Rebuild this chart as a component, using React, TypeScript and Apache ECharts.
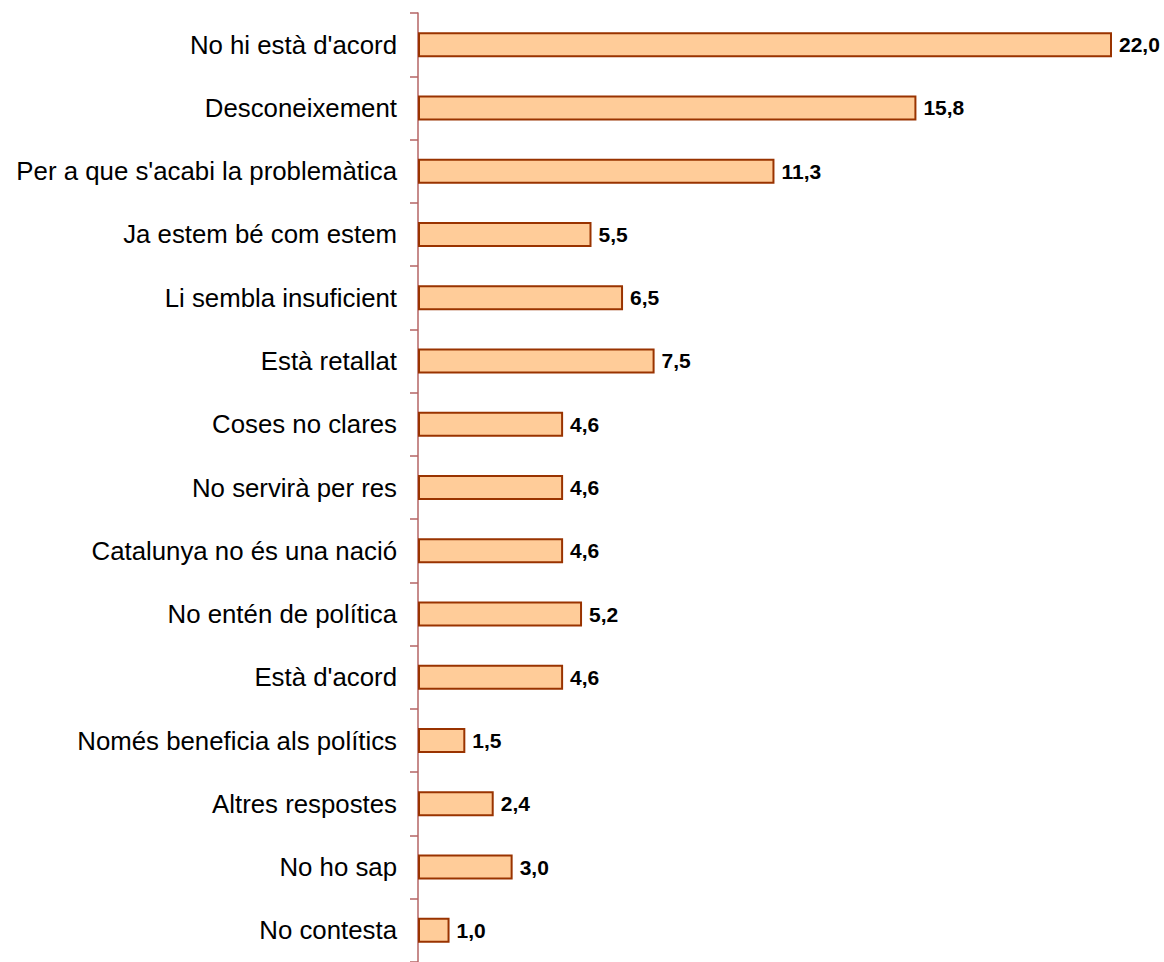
import React, { useEffect, useRef } from "react";
import * as echarts from "echarts";

const categories = [
  "No hi està d'acord",
  "Desconeixement",
  "Per a que s'acabi la problemàtica",
  "Ja estem bé com estem",
  "Li sembla insuficient",
  "Està retallat",
  "Coses no clares",
  "No servirà per res",
  "Catalunya no és una nació",
  "No entén de política",
  "Està d'acord",
  "Només beneficia als polítics",
  "Altres respostes",
  "No ho sap",
  "No contesta",
];

const values = [22.0, 15.8, 11.3, 5.5, 6.5, 7.5, 4.6, 4.6, 4.6, 5.2, 4.6, 1.5, 2.4, 3.0, 1.0];

export default function App() {
  const ref = useRef<HTMLDivElement>(null);

  useEffect(() => {
    if (!ref.current) return;
    const chart = echarts.init(ref.current, null, { renderer: "svg" });
    chart.setOption({
      animation: false,
      backgroundColor: "#ffffff",
      textStyle: { fontFamily: "'Liberation Sans', Arial, sans-serif" },
      grid: { left: 418, right: 52, top: 13, bottom: -5, containLabel: false },
      xAxis: {
        type: "value",
        min: 0,
        max: 22,
        show: false,
      },
      yAxis: {
        type: "category",
        data: categories,
        inverse: true,
        axisLine: { show: true, lineStyle: { color: "#B46464", width: 1.5 } },
        axisTick: { show: true, length: 8, lineStyle: { color: "#B46464", width: 1.5 } },
        axisLabel: {
          margin: 21,
          color: "#000000",
          fontSize: 25.8,
          fontFamily: "'Liberation Sans', Arial, sans-serif",
        },
        splitLine: { show: false },
      },
      series: [
        {
          type: "bar",
          data: values,
          barWidth: 25,
          itemStyle: { color: "#FFCC99", borderColor: "#993300", borderWidth: 2 },
          label: {
            show: true,
            position: "right",
            distance: 7,
            color: "#000000",
            fontWeight: "bold",
            fontSize: 21,
            fontFamily: "'Liberation Sans', Arial, sans-serif",
            formatter: (p: any) => p.value.toFixed(1).replace(".", ","),
          },
        },
      ],
    });
    return () => chart.dispose();
  }, []);

  return (
    <div
      ref={ref}
      style={{ position: "absolute", left: 0, top: 0, width: 1164, height: 962 }}
    />
  );
}
